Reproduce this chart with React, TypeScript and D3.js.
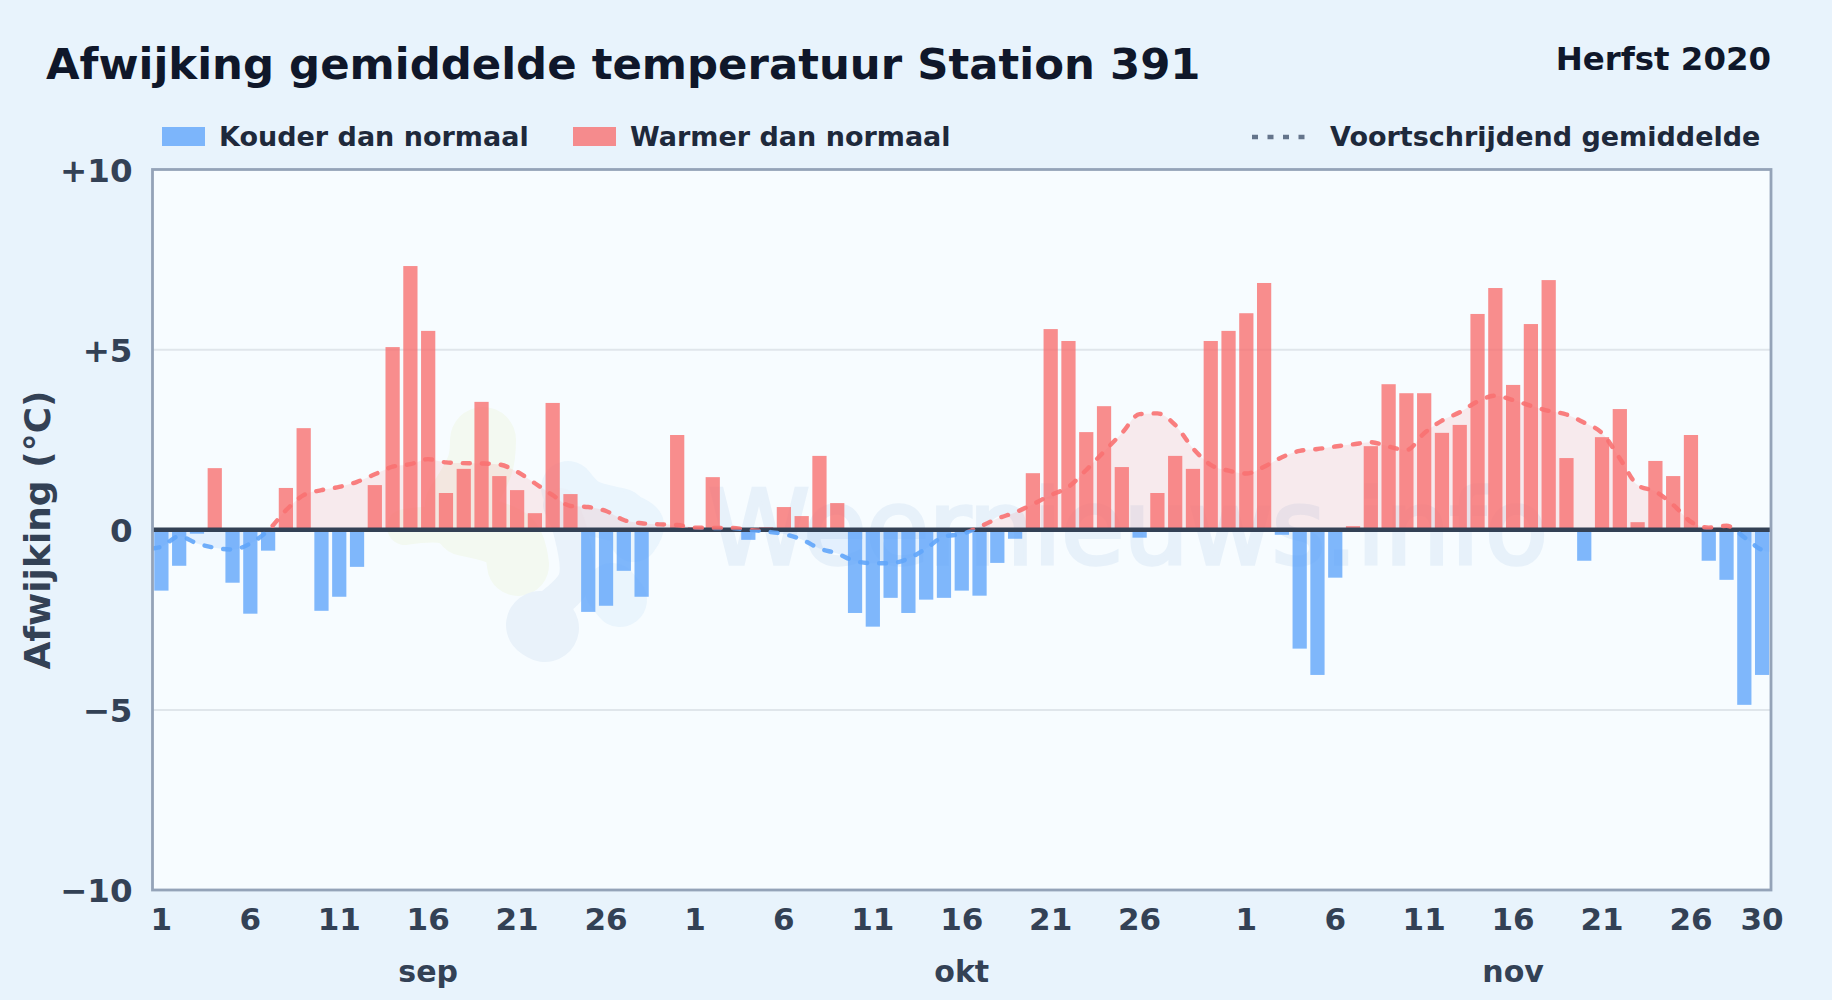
import { useRef, useEffect } from "react";
import * as d3 from "d3";

const monthNames = ["sep", "okt", "nov"];
const monthLengths = [30, 31, 30];
const tickDays = [1, 6, 11, 16, 21, 26];
const yTicks = [-10, -5, 0, 5, 10];

// Daily deviation from normal (°C)
const sepValues = [
  -1.69, -1.0, -0.11, 1.71, -1.47, -2.33, -0.58, 1.16, 2.82, -2.25,
  -1.86, -1.03, 1.24, 5.07, 7.32, 5.52, 1.02, 1.69, 3.55, 1.49,
  1.1, 0.46, 3.52, 0.99, -2.28, -2.11, -1.14, -1.86, 0, 2.63,
];
const octValues = [
  0.07, 1.46, 0.05, -0.28, 0.07, 0.63, 0.38, 2.05, 0.74, -2.31,
  -2.69, -1.89, -2.31, -1.94, -1.89, -1.69, -1.83, -0.92, -0.25, 1.57,
  5.57, 5.24, 2.71, 3.43, 1.74, -0.22, 1.02, 2.05, 1.69, 5.24, 5.52,
];
const novValues = [
  6.01, 6.85, -0.14, -3.3, -4.03, -1.33, 0.1, 2.32, 4.04, 3.79,
  3.79, 2.69, 2.91, 5.99, 6.71, 4.02, 5.71, 6.93, 1.99, -0.86,
  2.57, 3.35, 0.21, 1.91, 1.49, 2.63, -0.86, -1.39, -4.86, -4.03,
];

// Moving average, read at each day
const sepAverage = [
  -0.47, -0.18, -0.38, -0.5, -0.55, -0.38, -0.02, 0.54, 0.96, 1.1,
  1.19, 1.33, 1.54, 1.75, 1.82, 1.96, 1.87, 1.85, 1.84, 1.81,
  1.61, 1.29, 0.96, 0.66, 0.63, 0.52, 0.27, 0.18, 0.15, 0.13,
];
const octAverage = [
  0.06, 0.05, 0.05, 0, -0.05, -0.12, -0.27, -0.52, -0.66, -0.87,
  -0.93, -0.93, -0.8, -0.52, -0.19, -0.12, 0.08, 0.31, 0.48, 0.71,
  0.96, 1.19, 1.66, 2.17, 2.68, 3.21, 3.23, 2.91, 2.26, 1.8, 1.64,
];
const novAverage = [
  1.56, 1.75, 2.01, 2.19, 2.24, 2.31, 2.37, 2.43, 2.31, 2.21,
  2.68, 3.03, 3.26, 3.56, 3.72, 3.6, 3.44, 3.3, 3.2, 2.97,
  2.68, 1.98, 1.24, 1.06, 0.69, 0.22, 0.06, 0.11, -0.21, -0.56,
];
const averageAtStart = -0.52;
const averageAtEnd = -0.62;

const values = [...sepValues, ...octValues, ...novValues];
const average = [averageAtStart, ...sepAverage, ...octAverage, ...novAverage, averageAtEnd];

const blue = "#60a5fa";
const red = "#f87171";
const slate = "#334155";
const font = "'DejaVu Sans', sans-serif";

// Faint site logo behind the bars: [colour, stroke width, points]
const logoStrokes: [string, number, [number, number][]][] = [
  ["#f3f9f1", 66, [[483, 440], [480, 465], [458, 505]]],
  ["#f3f9f1", 36, [[405, 527], [440, 525], [470, 535]]],
  ["#f3f9f1", 62, [[465, 525], [510, 540], [518, 565]]],
  ["#eaf5fd", 54, [[568, 488], [585, 505], [620, 515]]],
  ["#eaf5fd", 48, [[620, 515], [640, 525], [634, 538]]],
  ["#eaf5fd", 54, [[612, 590], [620, 600]]],
  ["#e9f2fa", 68, [[540, 625], [545, 628]]],
  ["#e9f2fa", 34, [[545, 610], [575, 580], [570, 530], [560, 505]]],
];

export default function App() {
  const svgRef = useRef<SVGSVGElement>(null);

  const width = 1832;
  const height = 1000;
  const plot = { left: 152.5, right: 1771, top: 169.5, bottom: 890 };

  useEffect(() => {
    if (!svgRef.current) return;
    const svg = d3.select(svgRef.current);
    svg.selectAll("*").remove();

    const x = d3
      .scaleBand<number>()
      .domain(d3.range(values.length))
      .range([plot.left, plot.right])
      .paddingInner(0.2)
      .paddingOuter(0.1);
    // Same positions as the bands, for the average line that runs to the plot edges
    const xDay = d3
      .scaleLinear()
      .domain([-0.5, values.length - 0.5])
      .range([plot.left, plot.right]);
    const y = d3.scaleLinear().domain([-10, 10]).range([plot.bottom, plot.top]);

    const label = (
      text: string,
      px: number,
      py: number,
      size: number,
      fill: string,
      anchor = "start"
    ) =>
      svg
        .append("text")
        .attr("x", px)
        .attr("y", py)
        .attr("font-family", font)
        .attr("font-weight", 700)
        .attr("font-size", size)
        .attr("fill", fill)
        .attr("text-anchor", anchor)
        .text(text);

    // Page and plot background
    svg.append("rect").attr("width", width).attr("height", height).attr("fill", "#e8f3fc");
    svg
      .append("rect")
      .attr("x", plot.left)
      .attr("y", plot.top)
      .attr("width", plot.right - plot.left)
      .attr("height", plot.bottom - plot.top)
      .attr("fill", "#f7fcff");

    const defs = svg.append("defs");
    const clip = (id: string, top: number, bottom: number) =>
      defs
        .append("clipPath")
        .attr("id", id)
        .append("rect")
        .attr("x", plot.left)
        .attr("y", top)
        .attr("width", plot.right - plot.left)
        .attr("height", bottom - top);
    clip("above-zero", plot.top, y(0));
    clip("below-zero", y(0), plot.bottom);

    // Watermark
    const logoLine = d3.line().curve(d3.curveCatmullRom);
    for (const [color, strokeWidth, points] of logoStrokes) {
      svg
        .append("path")
        .attr("d", logoLine(points))
        .attr("fill", "none")
        .attr("stroke", color)
        .attr("stroke-width", strokeWidth)
        .attr("stroke-linecap", "round")
        .attr("stroke-linejoin", "round");
    }
    svg
      .append("text")
      .attr("x", 708)
      .attr("y", 564)
      .attr("font-family", font)
      .attr("font-size", 103)
      .attr("textLength", 840)
      .attr("fill", "#e7f1fa")
      .attr("stroke", "#e7f1fa")
      .attr("stroke-width", 3.5)
      .text("Weernieuws.info");

    // Grid lines
    svg
      .append("g")
      .selectAll("line")
      .data(yTicks.filter((t) => Math.abs(t) === 5))
      .join("line")
      .attr("x1", plot.left)
      .attr("x2", plot.right)
      .attr("y1", (d) => y(d))
      .attr("y2", (d) => y(d))
      .attr("stroke", "#e0e6eb")
      .attr("stroke-width", 2);

    // Moving average shading
    const avgPoints = average.map((v, i) => [xDay(i === 0 ? -0.5 : i === average.length - 1 ? values.length - 0.5 : i - 1), v] as [number, number]);
    const area = d3
      .area<[number, number]>()
      .x((d) => d[0])
      .y0(y(0))
      .y1((d) => y(d[1]))
      .curve(d3.curveMonotoneX);
    svg
      .append("path")
      .attr("d", area(avgPoints))
      .attr("fill", red)
      .attr("opacity", 0.13)
      .attr("clip-path", "url(#above-zero)");
    svg
      .append("path")
      .attr("d", area(avgPoints))
      .attr("fill", blue)
      .attr("opacity", 0.13)
      .attr("clip-path", "url(#below-zero)");

    // Bars
    svg
      .append("g")
      .selectAll("rect")
      .data(values)
      .join("rect")
      .attr("x", (_, i) => x(i)!)
      .attr("width", x.bandwidth())
      .attr("y", (d) => y(Math.max(d, 0)))
      .attr("height", (d) => Math.abs(y(d) - y(0)))
      .attr("fill", (d) => (d < 0 ? blue : red))
      .attr("opacity", 0.8);

    // Zero line
    svg
      .append("line")
      .attr("x1", plot.left)
      .attr("x2", plot.right)
      .attr("y1", y(0))
      .attr("y2", y(0))
      .attr("stroke", slate)
      .attr("stroke-width", 4.5);

    // Moving average line, coloured by sign
    const line = d3
      .line<[number, number]>()
      .x((d) => d[0])
      .y((d) => y(d[1]))
      .curve(d3.curveMonotoneX);
    for (const [color, id] of [
      [red, "above-zero"],
      [blue, "below-zero"],
    ]) {
      svg
        .append("path")
        .attr("d", line(avgPoints))
        .attr("fill", "none")
        .attr("stroke", color)
        .attr("stroke-width", 4.4)
        .attr("stroke-linecap", "round")
        .attr("stroke-dasharray", "7 12")
        .attr("opacity", 0.9)
        .attr("clip-path", `url(#${id})`);
    }

    // Plot border
    svg
      .append("rect")
      .attr("x", plot.left)
      .attr("y", plot.top)
      .attr("width", plot.right - plot.left)
      .attr("height", plot.bottom - plot.top)
      .attr("fill", "none")
      .attr("stroke", "#94a3b8")
      .attr("stroke-width", 2.8);

    // Axes
    const dayLabels: string[] = [];
    monthLengths.forEach((n) => {
      for (let d = 1; d <= n; d++) dayLabels.push(String(d));
    });
    const tickIndexes = dayLabels
      .map((d, i) => ({ d: +d, i }))
      .filter(({ d, i }) => tickDays.includes(d) || i === dayLabels.length - 1)
      .map(({ i }) => i);

    const xAxis = svg
      .append("g")
      .attr("transform", `translate(0,${plot.bottom})`)
      .call(
        d3
          .axisBottom(x)
          .tickValues(tickIndexes)
          .tickFormat((i) => dayLabels[i as number])
          .tickSize(0)
          .tickPadding(18)
      );
    xAxis.select(".domain").remove();
    xAxis
      .selectAll("text")
      .attr("font-family", font)
      .attr("font-weight", 700)
      .attr("font-size", 31)
      .attr("fill", slate);

    const yAxis = svg
      .append("g")
      .attr("transform", `translate(${plot.left},0)`)
      .call(
        d3
          .axisLeft(y)
          .tickValues(yTicks)
          .tickFormat((v) => (+v > 0 ? `+${v}` : +v < 0 ? `\u2212${-v}` : "0"))
          .tickSize(0)
          .tickPadding(20)
      );
    yAxis.select(".domain").remove();
    yAxis
      .selectAll("text")
      .attr("font-family", font)
      .attr("font-weight", 700)
      .attr("font-size", 32.5)
      .attr("dy", "0.36em")
      .attr("fill", slate);

    // Month labels sit under day 16 of each month
    let offset = 0;
    monthNames.forEach((name, m) => {
      label(name, x(offset + 15)! + x.bandwidth() / 2, 982, 30, slate, "middle");
      offset += monthLengths[m];
    });

    label("Afwijking (°C)", 0, 0, 36, slate, "middle").attr(
      "transform",
      "translate(50,530) rotate(-90)"
    );

    // Title
    label("Afwijking gemiddelde temperatuur Station 391", 46, 79, 43.4, "#0f172a");
    label("Herfst 2020", 1771, 70, 32.4, "#0f172a", "end");

    // Legend
    const swatch = (px: number, color: string) =>
      svg
        .append("rect")
        .attr("x", px)
        .attr("y", 127)
        .attr("width", 43)
        .attr("height", 19)
        .attr("fill", color)
        .attr("opacity", 0.8);
    swatch(162, blue);
    label("Kouder dan normaal", 219, 146, 27, "#1e293b");
    swatch(573, red);
    label("Warmer dan normaal", 630, 146, 27, "#1e293b");
    svg
      .append("line")
      .attr("x1", 1252)
      .attr("x2", 1304.5)
      .attr("y1", 137)
      .attr("y2", 137)
      .attr("stroke", "#64748b")
      .attr("stroke-width", 4.5)
      .attr("stroke-dasharray", "6 9.5");
    label("Voortschrijdend gemiddelde", 1330, 146, 27, "#1e293b");
  }, []);

  return (
    <svg
      ref={svgRef}
      width={width}
      height={height}
      viewBox={`0 0 ${width} ${height}`}
      style={{ position: "absolute", left: 0, top: 0, display: "block" }}
    />
  );
}
